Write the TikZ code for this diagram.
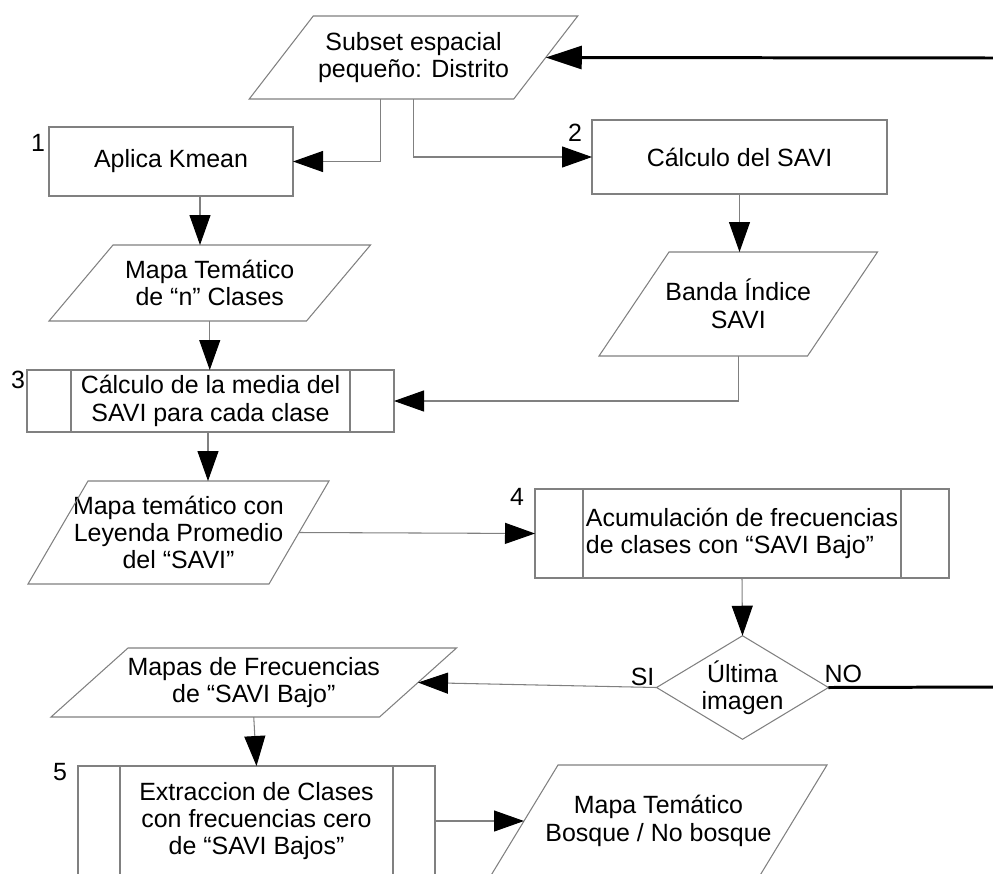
\documentclass[tikz,border=0pt]{standalone}
\usepackage{fontspec}
\setmainfont{Liberation Sans}
\usepackage{tikz}
\usetikzlibrary{arrows.meta, positioning, calc, shapes.geometric}
\definecolor{EdgeGray}{RGB}{128, 128, 128}
% parallelogram outline round an (undrawn) io node, #2 = half the slant
\newcommand{\ioframe}[2]{%
  \draw[frame] ($(#1.north west)+(#2,0)$) -- ($(#1.north east)+(#2,0)$)
    -- ($(#1.south east)-(#2,0)$) -- ($(#1.south west)-(#2,0)$) -- cycle;}

\begin{document}
\begin{tikzpicture}[
  font=\fontsize{14.2}{15.6}\selectfont,
  frame/.style={draw=EdgeGray, line width=0.6pt},
  box/.style={rectangle, frame, align=center, inner sep=2pt, outer sep=0pt},
  io/.style={rectangle, align=center, inner sep=0pt, outer sep=0pt},
  sub/.style={box, path picture={
      \draw[frame] ([xshift=#1]path picture bounding box.north west)
        -- ([xshift=#1]path picture bounding box.south west);
      \draw[frame] ([xshift=-#1]path picture bounding box.north east)
        -- ([xshift=-#1]path picture bounding box.south east);}},
  dec/.style={diamond, frame, align=center, aspect=1.66, inner sep=0pt,
              outer sep=0pt, minimum width=3.42cm, minimum height=2.06cm},
  num/.style={inner sep=0pt},
  arr/.style={draw=EdgeGray, line width=0.6pt,
              -{Triangle[length=0.6cm, width=0.42cm, color=black]}},
  loopline/.style={draw=black, line width=1.7pt}
]
  \clip (0,0) rectangle (19.86,-17.46);

  % ---- columna izquierda ----
  \node[io, minimum width=5.29cm, minimum height=1.66cm] (subset) at (8.27,-1.15)
    {Subset espacial\\pequeño: Distrito};
  \ioframe{subset}{0.64}
  \node[box, minimum width=4.88cm, minimum height=1.38cm] (kmean) at (3.42,-3.23)
    {Aplica Kmean};
  \node[io, minimum width=5.15cm, minimum height=1.52cm] (mapan) at (4.195,-5.66)
    {Mapa Temático\\de “n” Clases};
  \ioframe{mapan}{0.64}
  \node[sub=0.88cm, minimum width=7.34cm, minimum height=1.24cm] (media) at (4.21,-8.02)
    {Cálculo de la media del\\SAVI para cada clase};
  \node[io, minimum width=4.82cm, minimum height=2.06cm] (leyenda) at (3.57,-10.65)
    {Mapa temático con\\Leyenda Promedio\\del “SAVI”};
  \ioframe{leyenda}{0.6}
  \node[io, minimum width=6.57cm, minimum height=1.38cm] (mapasf) at (5.075,-13.65)
    {Mapas de Frecuencias\\de “SAVI Bajo”};
  \ioframe{mapasf}{0.77}
  \node[sub=0.84cm, minimum width=7.14cm, minimum height=2.2cm] (extrac) at (5.13,-16.42)
    {Extraccion de Clases\\con frecuencias cero\\de “SAVI Bajos”};

  % ---- columna derecha ----
  \node[box, minimum width=5.9cm, minimum height=1.48cm] (calc) at (14.79,-3.14)
    {Cálculo del SAVI};
  \node[io, minimum width=4.17cm, minimum height=2.08cm] (banda) at (14.765,-6.08)
    {Banda Índice\\SAVI};
  \ioframe{banda}{0.7}
  \node[sub=0.96cm, align=left, minimum width=8.28cm, minimum height=1.78cm] (acum)
    at (14.84,-10.67) {Acumulación de frecuencias\\de clases con “SAVI Bajo”};
  \node[dec] (ultima) at (14.85,-13.75) {Última\\imagen};
  \node[io, minimum width=5.38cm, minimum height=2.24cm] (bosque) at (13.17,-16.42)
    {Mapa Temático\\Bosque / No bosque};
  \ioframe{bosque}{0.68}

  % ---- numeros y etiquetas ----
  \node[num] (n1) at ([shift={(-0.22,-0.32)}]kmean.north west) {1};
  \node[num] (n2) at ([shift={(-0.34,-0.26)}]calc.north west) {2};
  \node[num] (n3) at ([shift={(-0.18,-0.2)}]media.north west) {3};
  \node[num] (n4) at ([shift={(-0.36,-0.16)}]acum.north west) {4};
  \node[num] (n5) at ([shift={(-0.36,-0.12)}]extrac.north west) {5};
  \node[num] (si) at ([shift={(-0.28,0.21)}]ultima.west) {SI};
  \node[num] (no) at ([shift={(0.3,0.27)}]ultima.east) {NO};

  % ---- conectores ----
  \coordinate (retorno) at (19.86,-1.16);
  \coordinate (salida) at (19.86,-13.74);
  \draw[loopline, -{Triangle[length=0.72cm, width=0.46cm]}] (retorno) -- (subset.east);
  \draw[arr] ([xshift=-0.66cm]subset.south) |- (kmean.east);
  \draw[arr] (subset.south) |- (calc.west);
  \draw[arr] ([xshift=0.58cm]kmean.south) -- ([xshift=0.58cm]kmean.south |- mapan.north);
  \draw[arr] (mapan.south) -- (mapan.south |- media.north);
  \draw[arr] (calc.south) -- (calc.south |- banda.north);
  \draw[arr] (banda.south) |- (media.east);
  \draw[arr] ([xshift=-0.05cm]media.south) -- ([xshift=-0.05cm]media.south |- leyenda.north);
  \draw[arr] (leyenda.east) -- (acum.west);
  \draw[arr] (acum.south) -- (ultima.north);
  \draw[arr] (ultima.west) -- (mapasf.east);
  \draw[loopline] (ultima.east) -- (salida);
  \draw[arr] (mapasf.south) -- (extrac.north);
  \draw[arr] (extrac.east) -- (bosque.west);
\end{tikzpicture}
\end{document}
